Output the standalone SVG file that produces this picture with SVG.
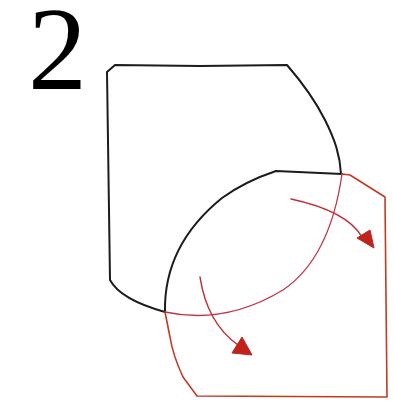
<svg xmlns="http://www.w3.org/2000/svg" width="393" height="402" viewBox="0 0 393 402">
<style>
.blk{fill:none;stroke:#1c1c1c;stroke-width:2;stroke-linejoin:round;stroke-linecap:round}
.red{fill:none;stroke:#c23a24;stroke-width:1.6;stroke-linejoin:round;stroke-linecap:round}
.lens{fill:none;stroke:#c2344a;stroke-width:1.3;stroke-linecap:round}
.arr{fill:none;stroke:#c0303a;stroke-width:1.5;stroke-linecap:round}
.head{fill:#c0221c;stroke:#c0221c;stroke-width:1;stroke-linejoin:round}
.num{font-family:"Liberation Serif","Times New Roman",serif;font-size:118px;fill:#000}
</style>
<rect width="393" height="402" fill="#fff"/>
<g id="label"><text class="num" x="28" y="89">2</text></g>
<g id="black-shape">
<path class="blk" d="M165,312 C140,305 118,295 110,280 L107,72 L115,65 L200,66 L287,65 C300,80 315,100 325,120 C335,140 340,155 341,174"/>
<path class="blk" d="M165,312 C164,265 185,228 222,198 C240,185 258,177 276,171 L342,174"/>
</g>
<g id="red-shape">
<path class="red" d="M342,174 L350,175 L385,197 L387,397 L197,396 L183,377 C176,362 172,350 170,337 L165,312"/>
<path class="lens" d="M165,312 Q225,325 283,290 Q330,258 342,174"/>
</g>
<g id="connectors">
<path class="arr" d="M291,199 Q347,211 362,237"/>
<polygon class="head" points="357,238 370,230 374,248"/>
<path class="arr" d="M200,277 Q207,323 238,345"/>
<polygon class="head" points="232,353 242,337 252,355"/>
</g>
</svg>
